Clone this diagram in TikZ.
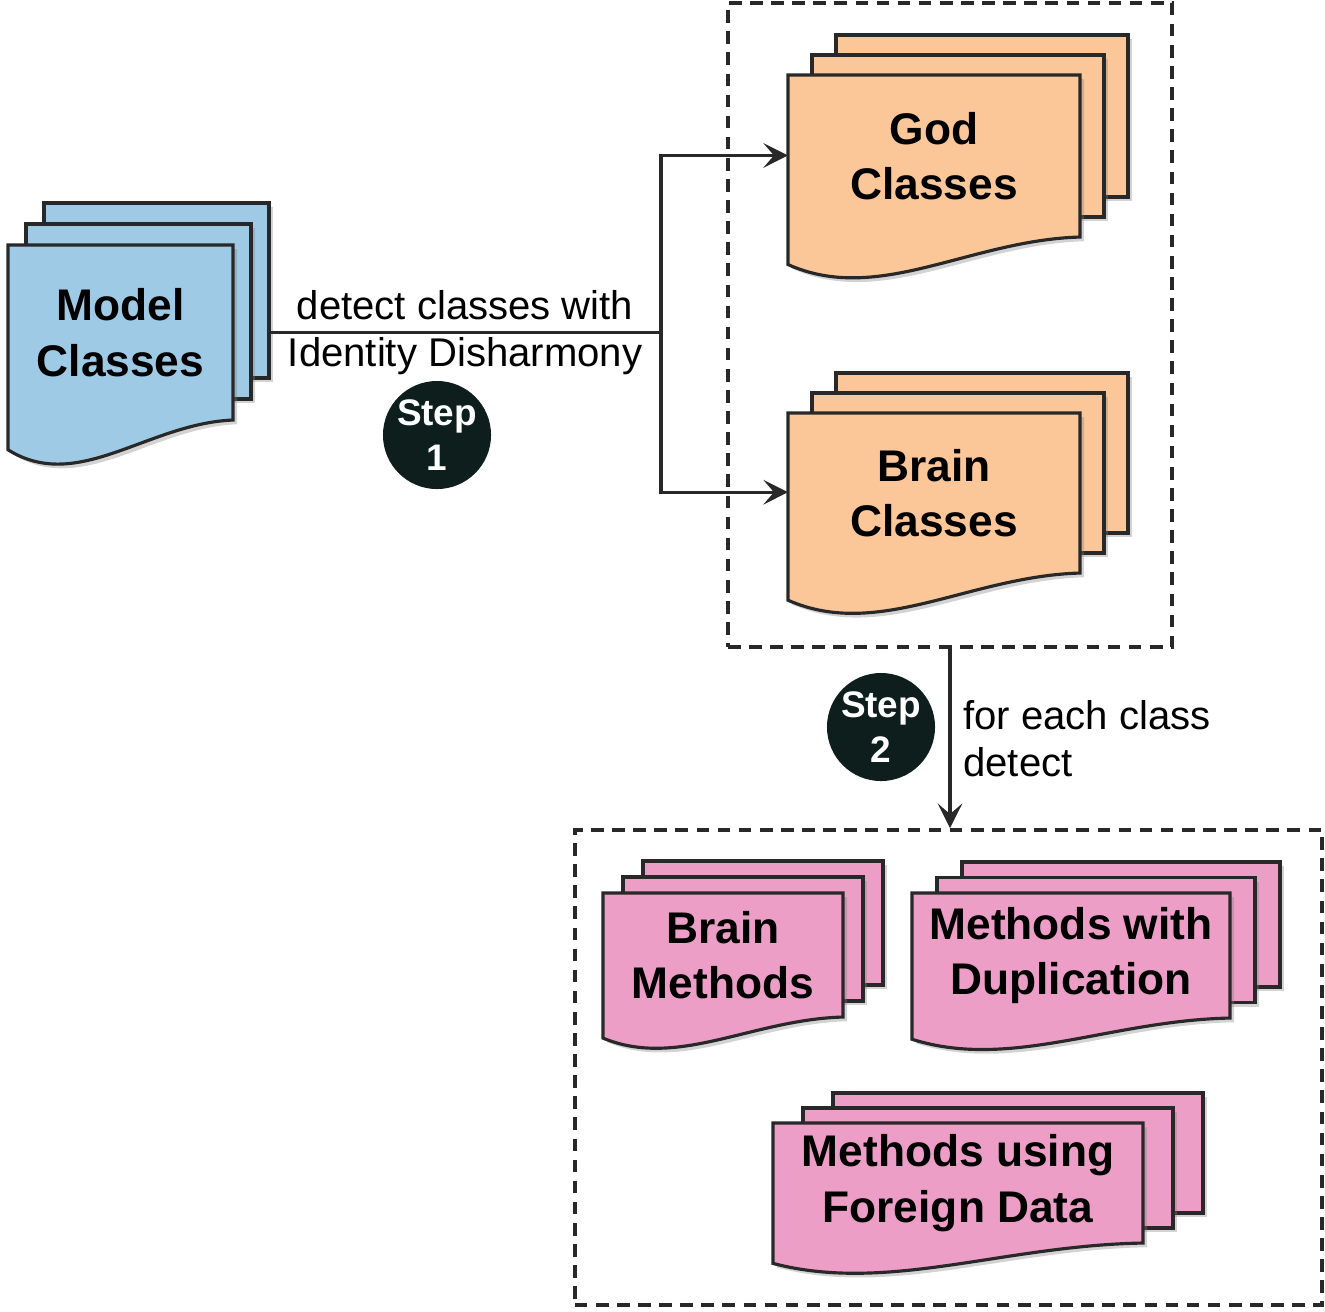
\documentclass[tikz,border=0pt]{standalone}
\usepackage{fontspec}
\setmainfont{Liberation Sans}
\usetikzlibrary{arrows.meta,shadows}

\definecolor{modelblue}{RGB}{158,202,230}
\definecolor{classorange}{RGB}{251,198,152}
\definecolor{methodpink}{RGB}{236,158,198}
\definecolor{stepdark}{RGB}{14,30,28}
\definecolor{edgegray}{RGB}{40,40,40}

% #1 name, (#2,#3) top left of front sheet, #4 width, #5 height,
% (#6,#7) offset of the sheets behind, #8 fill, #9 text
\newcommand\docstack[9]{%
  \foreach \k in {2,1}
    \draw[sheet,fill=#8] (#2+\k*#6,#3-\k*#7) rectangle ++(#4,#5);
  \draw[sheet,fill=#8] (#2,#3) -- ++(#4,0) -- ++(0,#5)
    .. controls (#2+0.62*#4,#3+1.02*#5) and (#2+0.31*#4,#3+1.42*#5) .. (#2,#3+1.17*#5) -- cycle;
  \node[doctext] (#1) at (#2+0.5*#4,#3+0.5*#5) {#9};
  \coordinate (#1w) at (#2,#3-#7+0.62*#5);
  \coordinate (#1e) at (#2+2*#6+#4,#3-#7+0.62*#5);
}

\begin{document}
\begin{tikzpicture}[x=0.01cm,y=-0.01cm,
    sheet/.style={draw=edgegray,line width=0.9pt,
      drop shadow={shadow xshift=1.2pt,shadow yshift=-1.2pt,opacity=0.35}},
    doctext/.style={align=center,font=\bfseries\fontsize{12.6}{15.8}\selectfont},
    edgetext/.style={align=center,font=\fontsize{11.4}{13.4}\selectfont},
    groupbox/.style={draw=edgegray,line width=1pt,dash pattern=on 3.6pt off 2.4pt,inner sep=0pt},
    stepcircle/.style={circle,fill=stepdark,text=white,minimum size=1.08cm,inner sep=0pt,
      align=center,font=\bfseries\fontsize{10.5}{12.8}\selectfont},
    flow/.style={draw=edgegray,line width=0.9pt},
    arrow/.style={flow,-{Stealth[length=7pt,width=7pt,inset=3pt]}}]
  \useasboundingbox (0,0) rectangle (1325,1311);

  % dashed groups
  \node[groupbox,minimum width=4.44cm,minimum height=6.44cm] (classbox) at (950,325) {};
  \node[groupbox,minimum width=7.47cm,minimum height=4.75cm] (methodbox) at (948.5,1067.5) {};

  % stacks of documents
  \docstack{model}{8}{245}{225}{175}{18}{21}{modelblue}{Model\\Classes}
  \docstack{god}{788}{75}{292}{162}{24}{20}{classorange}{God\\Classes}
  \docstack{brain}{788}{413}{292}{160}{24}{20}{classorange}{Brain\\Classes}
  \docstack{brainm}{603}{893}{240}{124}{20}{16}{methodpink}{Brain\\Methods}
  \docstack{dupl}{912}{893}{318}{125}{25}{15.5}{methodpink}{Methods with\\Duplication}
  \docstack{foreign}{773}{1123}{370}{120}{30}{15}{methodpink}{Methods using\\Foreign Data}

  % step 1
  \path (modele) ++(392,0) coordinate (split);
  \draw[flow] (modele) -- (split) node[midway,edgetext]{detect classes with\\Identity Disharmony};
  \draw[arrow] (split) |- (godw);
  \draw[arrow] (split) |- (brainw);
  \node[stepcircle] (step1) at (437,435) {Step\\1};

  % step 2
  \draw[arrow] (classbox.south) -- (classbox.south |- methodbox.north)
    node[midway,right,edgetext,align=left]{for each class\\detect};
  \node[stepcircle] (step2) at (881,727) {Step\\2};
\end{tikzpicture}
\end{document}
